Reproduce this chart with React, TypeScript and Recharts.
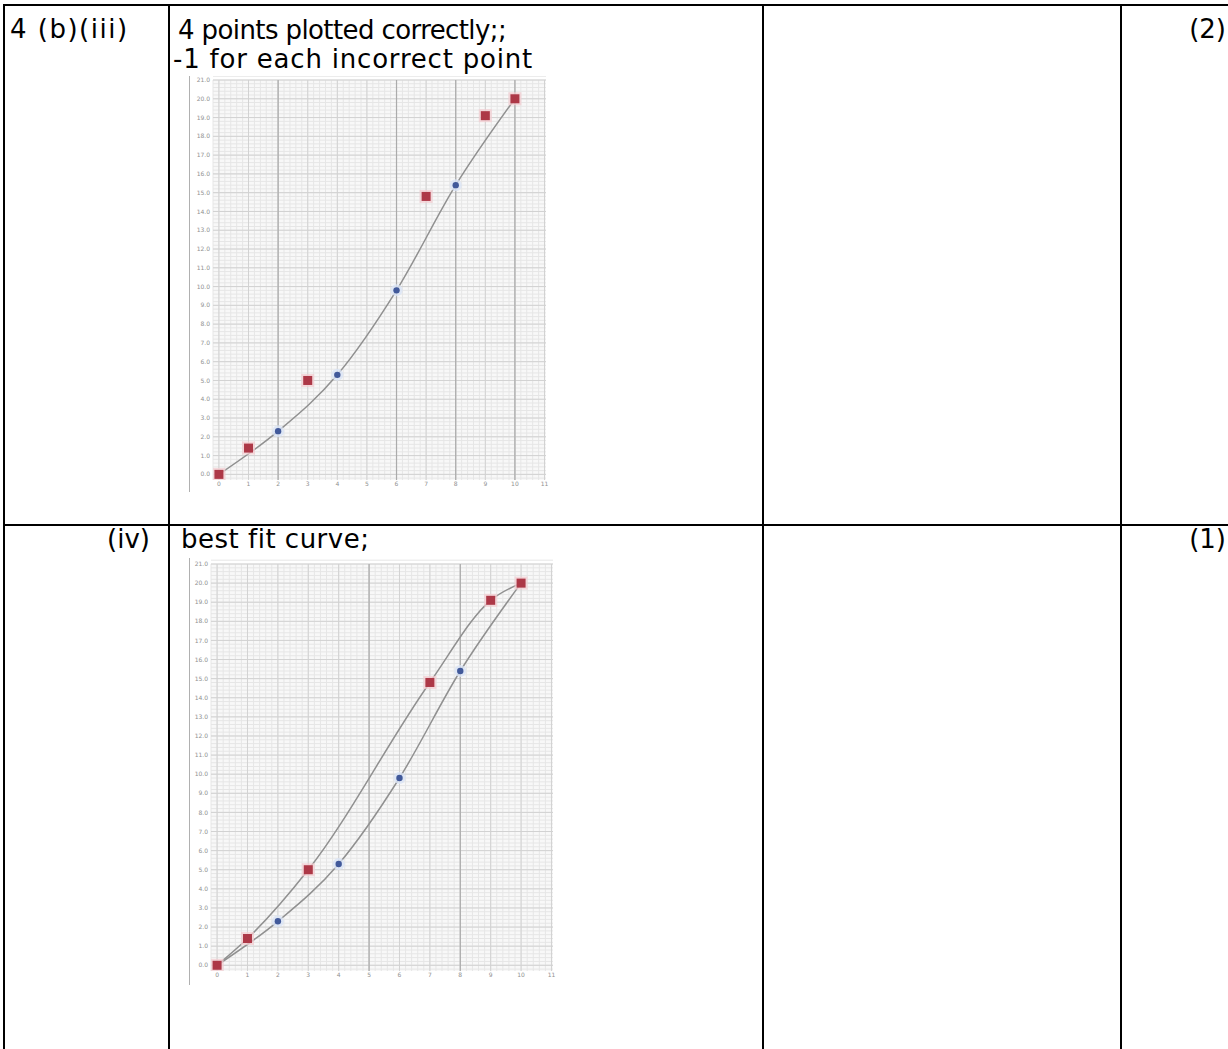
import { ComposedChart, Line, Scatter, XAxis, YAxis, CartesianGrid, ReferenceLine } from "recharts"

const xTicks = [0, 1, 2, 3, 4, 5, 6, 7, 8, 9, 10, 11]
const yTicks = [0, 1, 2, 3, 4, 5, 6, 7, 8, 9, 10, 11, 12, 13, 14, 15, 16, 17, 18, 19, 20, 21]

// red squares (student points)
const redX = [0, 1, 3, 7, 9, 10]
const redY = [0, 1.4, 5.0, 14.8, 19.1, 20.0]
// blue dots
const blueX = [2, 4, 6, 8]
const blueY = [2.3, 5.3, 9.8, 15.4]

// best fit curves
const lowerX = [0, 2, 4, 6, 8, 10]
const lowerY = [0, 2.3, 5.3, 9.8, 15.4, 20.0]
const upperX = [0, 1, 3, 7, 9, 10]
const upperY = [0, 1.4, 5.0, 14.8, 19.1, 20.0]

// darker vertical lines on the scanned graph paper
const darkLines1 = [2, 6, 8, 10]
const darkLines2 = [5, 8]

const zip = (xs: number[], ys: number[]) => xs.map((x, i) => ({ x, y: ys[i] }))

// graph paper lines, every 0.2 units
const minorX = Array.from({ length: 57 }, (_, i) => -0.2 + i * 0.2)
const minorY = Array.from({ length: 108 }, (_, i) => -0.2 + i * 0.2)

const FONT = '"DejaVu Sans", Verdana, sans-serif'

const RedSquare = (props: any) => {
  const { cx, cy } = props
  return (
    <g>
      <rect x={cx - 6.5} y={cy - 6.5} width={13} height={13} fill="#f3cdd1" opacity={0.75} />
      <rect x={cx - 4.5} y={cy - 4.5} width={9} height={9} fill="#ad3847" />
    </g>
  )
}

const BlueDot = (props: any) => {
  const { cx, cy } = props
  return (
    <g>
      <circle cx={cx} cy={cy} r={6} fill="#d9e4f5" opacity={0.8} />
      <circle cx={cx} cy={cy} r={3.2} fill="#41599a" />
    </g>
  )
}

type PlotProps = {
  width: number
  height: number
  margin: { top: number; right: number; left: number; bottom: number }
  yWidth: number
  xHeight: number
  curves: { x: number; y: number }[][]
  dark: number[]
}

function GraphPlot({ width, height, margin, yWidth, xHeight, curves, dark }: PlotProps) {
  return (
    <ComposedChart width={width} height={height} margin={margin}>
      <CartesianGrid
        verticalValues={minorX}
        horizontalValues={minorY}
        stroke="#e6e6e6"
        strokeWidth={1}
        fill="#f8f8f8"
      />
      <CartesianGrid verticalValues={xTicks} horizontalValues={yTicks} stroke="#d2d2d2" strokeWidth={1} />
      <XAxis
        dataKey="x"
        type="number"
        domain={[-0.2, 11.05]}
        ticks={xTicks}
        interval={0}
        height={xHeight}
        tickLine={false}
        axisLine={false}
        tickSize={0}
        tickMargin={2}
        allowDataOverflow
        tick={{ fontSize: 6, fill: "#909090", fontFamily: FONT }}
      />
      <YAxis
        type="number"
        domain={[-0.3, 21]}
        ticks={yTicks}
        interval={0}
        width={yWidth}
        tickLine={false}
        axisLine={false}
        tickSize={0}
        tickMargin={3}
        allowDataOverflow
        tickFormatter={(v: number) => v.toFixed(1)}
        tick={{ fontSize: 6, fill: "#909090", fontFamily: FONT }}
      />
      {dark.map((d) => (
        <ReferenceLine key={d} x={d} stroke="#ababab" strokeWidth={1.2} />
      ))}
      {curves.map((c, i) => (
        <Line
          key={i}
          data={c}
          dataKey="y"
          type="monotone"
          stroke="#909090"
          strokeWidth={1.5}
          dot={false}
          activeDot={false}
          isAnimationActive={false}
        />
      ))}
      <Scatter data={zip(blueX, blueY)} dataKey="y" shape={BlueDot} isAnimationActive={false} />
      <Scatter data={zip(redX, redY)} dataKey="y" shape={RedSquare} isAnimationActive={false} />
    </ComposedChart>
  )
}

const rule = (style: React.CSSProperties) => (
  <div style={{ position: "absolute", background: "#000", ...style }} />
)

const textStyle: React.CSSProperties = {
  position: "absolute",
  fontFamily: FONT,
  fontSize: 26,
  lineHeight: "30px",
  color: "#000",
  whiteSpace: "nowrap",
}

export default function App() {
  return (
    <div
      style={{
        position: "absolute",
        left: 0,
        top: 0,
        width: 1228,
        height: 1049,
        overflow: "hidden",
        background: "#fff",
      }}
    >
      {rule({ left: 3, top: 4, width: 1225, height: 2 })}
      {rule({ left: 3, top: 524, width: 1225, height: 2 })}
      {rule({ left: 3, top: 4, width: 2, height: 1045 })}
      {rule({ left: 168, top: 4, width: 2, height: 1045 })}
      {rule({ left: 762, top: 4, width: 2, height: 1045 })}
      {rule({ left: 1120, top: 4, width: 2, height: 1045 })}

      <div style={{ ...textStyle, left: 10, top: 14, letterSpacing: 1.5 }}>4 (b)(iii)</div>
      <div style={{ ...textStyle, left: 178, top: 15, letterSpacing: -0.6 }}>4 points plotted correctly;;</div>
      <div style={{ ...textStyle, left: 173, top: 44, letterSpacing: 0.8 }}>-1 for each incorrect point</div>
      <div style={{ ...textStyle, right: 2, top: 14 }}>(2)</div>

      <div style={{ ...textStyle, right: 1228 - 150, top: 524 }}>(iv)</div>
      <div style={{ ...textStyle, left: 181, top: 524, letterSpacing: 0.5 }}>best fit curve;</div>
      <div style={{ ...textStyle, right: 2, top: 524 }}>(1)</div>

      <div style={{ position: "absolute", left: 189, top: 76, borderLeft: "1px solid #b0b0b0" }}>
        <GraphPlot
          width={365}
          height={416}
          margin={{ top: 4, right: 9, left: 0, bottom: 3 }}
          yWidth={23}
          xHeight={9}
          curves={[zip(lowerX, lowerY)]}
          dark={darkLines1}
        />
      </div>

      <div style={{ position: "absolute", left: 189, top: 558, borderLeft: "1px solid #b0b0b0" }}>
        <GraphPlot
          width={368}
          height={427}
          margin={{ top: 6, right: 5, left: 0, bottom: 3 }}
          yWidth={21}
          xHeight={11}
          curves={[zip(upperX, upperY), zip(lowerX, lowerY)]}
          dark={darkLines2}
        />
      </div>
    </div>
  )
}
